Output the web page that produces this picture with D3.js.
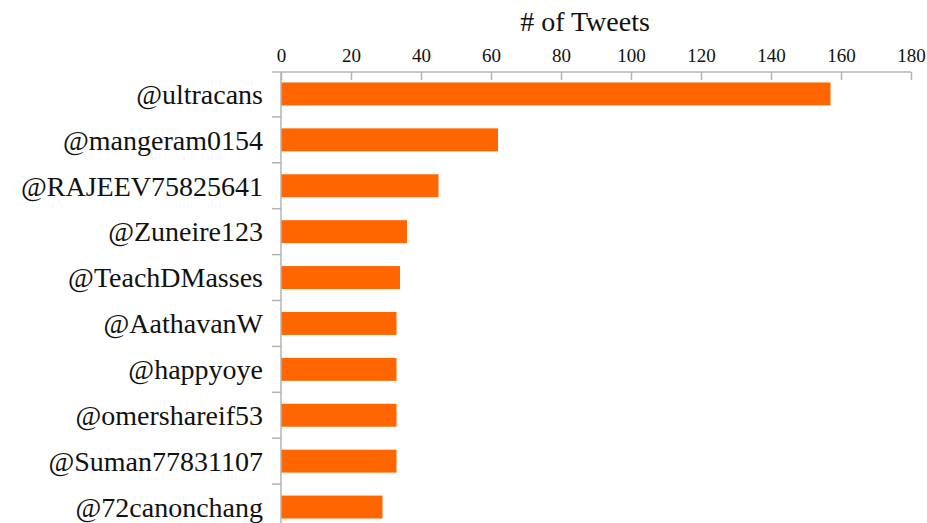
<!DOCTYPE html>
<html lang="en">
<head>
    <meta charset="UTF-8">
    <script src="https://d3js.org/d3.v7.min.js"></script>
    <title>Tweets per user</title>
    <style>
        body { margin: 0; background: #fff; }
    </style>
</head>
<body>
<svg id="barchart" width="927" height="523"></svg>

<script>

// data
const users = ["@ultracans", "@mangeram0154", "@RAJEEV75825641", "@Zuneire123", "@TeachDMasses",
               "@AathavanW", "@happyoye", "@omershareif53", "@Suman77831107", "@72canonchang"];
const tweets = [157, 62, 45, 36, 34, 33, 33, 33, 33, 29];
const xTicks = [0, 20, 40, 60, 80, 100, 120, 140, 160, 180];

const serif = "Liberation Serif";
const svg = d3.select("svg#barchart");
const margin = {top: 72, left: 281};
const axisColor = "#b3b3b3";

const xScale = d3.scaleLinear().domain([0, 180]).range([margin.left, 911]);
const yScale = d3.scaleBand().domain(users)
                 .range([71, 71 + users.length * 45.9])
                 .paddingInner(0.5).paddingOuter(0.25);

const data = users.map((u, i) => ({user: u, value: tweets[i]}));

// bars
svg.append("g").attr("id", "bars")
   .selectAll("rect")
   .data(data)
   .join("rect")
   .attr("x", xScale(0))
   .attr("y", d => yScale(d.user))
   .attr("width", d => xScale(d.value) - xScale(0))
   .attr("height", yScale.bandwidth())
   .attr("fill", "#ff6600");

// top axis, ticks pointing down into the plot
let topAxis = d3.axisTop(xScale).tickValues(xTicks).tickSizeInner(-8).tickSizeOuter(0).tickPadding(10);
let xg = svg.append("g")
   .attr("class", "x axis")
   .attr("transform", `translate(0,${margin.top})`)
   .call(topAxis)
   .attr("font-family", serif)
   .attr("font-size", 19);
xg.select(".domain").remove();
xg.selectAll(".tick line").attr("stroke", axisColor).attr("stroke-width", 1.5);
xg.selectAll(".tick text").attr("fill", "#111");
xg.append("line")
  .attr("x1", 272).attr("x2", xScale(180))
  .attr("stroke", axisColor).attr("stroke-width", 1.5);

// left axis: line, ticks on band boundaries, labels
let yg = svg.append("g").attr("class", "y axis");
yg.append("line")
  .attr("x1", xScale(0)).attr("x2", xScale(0))
  .attr("y1", margin.top).attr("y2", 523)
  .attr("stroke", axisColor).attr("stroke-width", 1.5);
yg.selectAll("line.tick")
  .data(users)
  .join("line")
  .attr("class", "tick")
  .attr("x1", xScale(0) - 9).attr("x2", xScale(0))
  .attr("y1", d => yScale(d) + yScale.bandwidth() * 1.5)
  .attr("y2", d => yScale(d) + yScale.bandwidth() * 1.5)
  .attr("stroke", axisColor).attr("stroke-width", 1.5);
yg.selectAll("text")
  .data(users)
  .join("text")
  .attr("x", 263)
  .attr("y", d => yScale(d) + yScale.bandwidth() / 2)
  .attr("dy", "0.35em")
  .attr("text-anchor", "end")
  .attr("font-family", serif)
  .attr("font-size", 28)
  .attr("fill", "#111")
  .text(d => d);

// axis title
svg.append("text")
   .attr("x", 585)
   .attr("y", 31)
   .attr("text-anchor", "middle")
   .attr("font-family", serif)
   .attr("font-size", 28)
   .attr("fill", "#111")
   .text("# of Tweets");

</script>
</body>
</html>
